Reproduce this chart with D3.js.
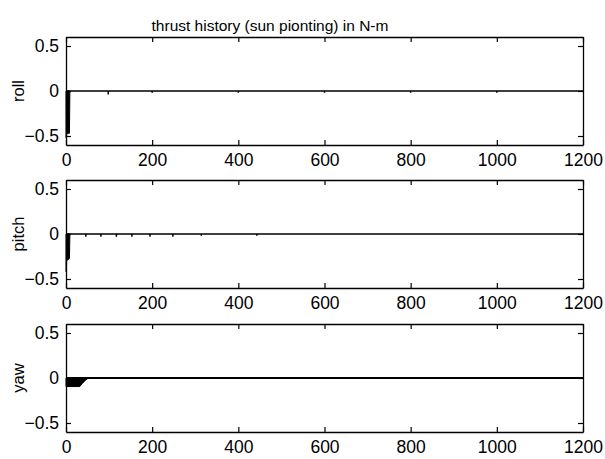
<!DOCTYPE html>
<html>
<head>
<meta charset="utf-8">
<script src="https://cdn.jsdelivr.net/npm/d3@7/dist/d3.min.js"></script>
<style>
  html, body { margin: 0; padding: 0; background: #fff; }
  svg { display: block; font-family: Arial, "Liberation Sans", Helvetica, sans-serif; }
</style>
</head>
<body>
<svg id="chart" width="605" height="459"></svg>
<script>
// Thruster torque history, three axes (seconds vs N-m)
const chartTitle = "thrust history (sun pionting) in N-m";
const axisNames = ["roll", "pitch", "yaw"];
const xTicks = [0, 200, 400, 600, 800, 1000, 1200];
const yTicks = [-0.5, 0, 0.5];

// Dense firing bursts at the start, drawn as envelopes (time s, lower torque N-m)
const rollBurstT = [0, 1, 2, 5, 8, 9];
const rollBurstV = [-0.52, -0.52, -0.47, -0.47, -0.47, 0];
const pitchBurstT = [0, 1, 1.5, 4, 8, 9];
const pitchBurstV = [-0.42, -0.42, -0.29, -0.29, -0.27, 0];
const yawBurstT = [0, 32, 38, 45, 52];
const yawBurstV = [-0.095, -0.095, -0.06, -0.025, 0];

// Isolated short pulses after the initial burst (time s, torque N-m)
const rollPulseT = [98, 200, 400, 600, 800, 1000];
const rollPulseV = [-0.04, -0.02, -0.02, -0.02, -0.02, -0.02];
const pitchPulseT = [46, 81, 117, 153, 195, 248, 314, 443];
const pitchPulseV = [-0.03, -0.03, -0.03, -0.03, -0.03, -0.03, -0.02, -0.02];
const yawPulseT = [];
const yawPulseV = [];

const panels = [
  { name: axisNames[0], bt: rollBurstT, bv: rollBurstV, pt: rollPulseT, pv: rollPulseV, top: 37, lw: 1.5 },
  { name: axisNames[1], bt: pitchBurstT, bv: pitchBurstV, pt: pitchPulseT, pv: pitchPulseV, top: 180, lw: 1.5 },
  { name: axisNames[2], bt: yawBurstT, bv: yawBurstV, pt: yawPulseT, pv: yawPulseV, top: 324, lw: 2 }
];

const svg = d3.select("#chart");
const left = 66, right = 583, ph = 108, tickLen = 5;

svg.append("text")
  .attr("x", 270).attr("y", 31)
  .attr("text-anchor", "middle")
  .attr("font-size", 15.5)
  .text(chartTitle);

const x = d3.scaleLinear().domain([0, 1200]).range([left, right]);

panels.forEach(p => {
  const y = d3.scaleLinear().domain([-0.6, 0.6]).range([p.top + ph, p.top]);
  const g = svg.append("g");

  // torque trace: zero baseline with pulses
  const pts = [{ t: 0, v: 0 }];
  p.pt.forEach((t, i) => { pts.push({ t, v: 0 }, { t, v: p.pv[i] }, { t, v: 0 }); });
  pts.push({ t: 1200, v: 0 });
  g.append("path")
    .attr("d", d3.line().x(d => x(d.t)).y(d => y(d.v))(pts))
    .attr("fill", "none").attr("stroke", "#000").attr("stroke-width", p.lw);

  // initial burst envelope
  const burst = p.bt.map((t, i) => ({ t, v: p.bv[i] }));
  g.append("path")
    .attr("d", d3.area().x(d => x(d.t)).y0(y(0)).y1(d => y(d.v))(burst))
    .attr("fill", "#000").attr("stroke", "#000").attr("stroke-width", 1);

  // axes: ticks inside, on all four sides
  const bottom = d3.axisBottom(x).tickValues(xTicks).tickSizeInner(-tickLen).tickSizeOuter(0).tickPadding(9)
    .tickFormat(d3.format("d"));
  const top = d3.axisTop(x).tickValues(xTicks).tickSizeInner(-tickLen).tickSizeOuter(0).tickFormat("");
  const leftAx = d3.axisLeft(y).tickValues(yTicks).tickSizeInner(-tickLen).tickSizeOuter(0).tickPadding(7)
    .tickFormat(d => d === 0 ? "0" : d3.format(".1f")(d));
  const rightAx = d3.axisRight(y).tickValues(yTicks).tickSizeInner(-tickLen).tickSizeOuter(0).tickFormat("");

  [[bottom, `translate(0,${p.top + ph})`], [top, `translate(0,${p.top})`],
   [leftAx, `translate(${left},0)`], [rightAx, `translate(${right},0)`]].forEach(([ax, tr]) => {
    const a = g.append("g").attr("transform", tr).call(ax);
    a.select(".domain").attr("stroke", "#000").attr("stroke-width", 1.3);
    a.selectAll(".tick line").attr("stroke", "#000").attr("stroke-width", 1.2);
    a.selectAll(".tick text").attr("fill", "#000").attr("font-size", 17.5)
      .attr("font-family", "Arial, 'Liberation Sans', Helvetica, sans-serif");
  });

  svg.append("text")
    .attr("transform", `translate(24,${p.top + ph / 2}) rotate(-90)`)
    .attr("text-anchor", "middle")
    .attr("font-size", 16.5)
    .text(p.name);
});
</script>
</body>
</html>
